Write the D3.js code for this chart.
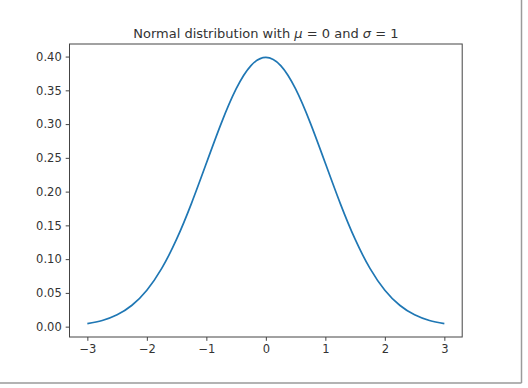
<!DOCTYPE html>
<html>
<head>
<meta charset="utf-8">
<script src="https://cdn.jsdelivr.net/npm/d3@7"></script>
<style>
  body { margin: 0; background: #fff; }
  svg { display: block; }
  .axis text { font-family: "DejaVu Sans", sans-serif; font-size: 11.5px; fill: #333; }
  .axis line, .axis path { stroke: #444; }
</style>
</head>
<body>
<script>
// values (standard normal density)
const xs = [-3, -2.75, -2.5, -2.25, -2, -1.75, -1.5, -1.25, -1, -0.75, -0.5, -0.25, 0,
  0.25, 0.5, 0.75, 1, 1.25, 1.5, 1.75, 2, 2.25, 2.5, 2.75, 3]
const density = [0.0044, 0.0091, 0.0175, 0.0317, 0.0540, 0.0863, 0.1295, 0.1826, 0.2420, 0.3011, 0.3521, 0.3867, 0.3989,
  0.3867, 0.3521, 0.3011, 0.2420, 0.1826, 0.1295, 0.0863, 0.0540, 0.0317, 0.0175, 0.0091, 0.0044]
const xTicks = [-3, -2, -1, 0, 1, 2, 3]
const yTicks = [0, 0.05, 0.1, 0.15, 0.2, 0.25, 0.3, 0.35, 0.4]

const points = xs.map((x, i) => ({ x: x, y: density[i] }))

const svg = d3.select('body').append('svg').attr('width', 528).attr('height', 388)
const margin = { left: 69.5, top: 44 }
const width = 392.7, height = 293

// matplotlib-style 5% padding around the data
const xPad = (d3.max(xs) - d3.min(xs)) * 0.05
const yPad = (d3.max(density) - d3.min(density)) * 0.05

const x = d3.scaleLinear()
  .domain([d3.min(xs) - xPad, d3.max(xs) + xPad])
  .range([0, width])
const y = d3.scaleLinear()
  .domain([d3.min(density) - yPad, d3.max(density) + yPad])
  .range([height, 0])

// outer figure frame (right and bottom edges)
svg.append('line').attr('x1', 521.5).attr('x2', 521.5).attr('y1', 0).attr('y2', 383)
  .attr('stroke', '#9a9a9a').attr('stroke-width', 1.5)
svg.append('line').attr('x1', 0).attr('x2', 521.5).attr('y1', 383).attr('y2', 383)
  .attr('stroke', '#9a9a9a').attr('stroke-width', 1.5)

const chartGroup = svg.append('g')
  .attr('transform', `translate(${margin.left},${margin.top})`)

const line = d3.line()
  .x(d => x(d.x))
  .y(d => y(d.y))
  .curve(d3.curveNatural)

chartGroup.append('path')
  .datum(points)
  .attr('fill', 'none')
  .attr('stroke', '#1f77b4')
  .attr('stroke-width', 1.7)
  .attr('d', line)

chartGroup.append('g')
  .attr('class', 'axis x')
  .attr('transform', `translate(0,${height})`)
  .call(d3.axisBottom(x).tickValues(xTicks).tickFormat(d3.format('d')).tickSizeOuter(0).tickSize(3.8).tickPadding(4))

chartGroup.append('g')
  .attr('class', 'axis y')
  .call(d3.axisLeft(y).tickValues(yTicks).tickFormat(d3.format('.2f')).tickSizeOuter(0).tickSize(3.8).tickPadding(4))

chartGroup.selectAll('.axis .domain').remove()

// axes frame
chartGroup.append('rect')
  .attr('x', 0).attr('y', 0).attr('width', width).attr('height', height)
  .attr('fill', 'none').attr('stroke', '#444').attr('stroke-width', 1)

const title = svg.append('text')
  .attr('x', margin.left + width / 2)
  .attr('y', 38)
  .attr('text-anchor', 'middle')
  .style('font-family', '"DejaVu Sans", sans-serif')
  .style('font-size', '13px')
  .attr('fill', '#333')
title.append('tspan').text('Normal distribution with ')
title.append('tspan').style('font-style', 'italic').text('μ')
title.append('tspan').text(' = 0 and ')
title.append('tspan').style('font-style', 'italic').text('σ')
title.append('tspan').text(' = 1')
</script>
</body>
</html>
